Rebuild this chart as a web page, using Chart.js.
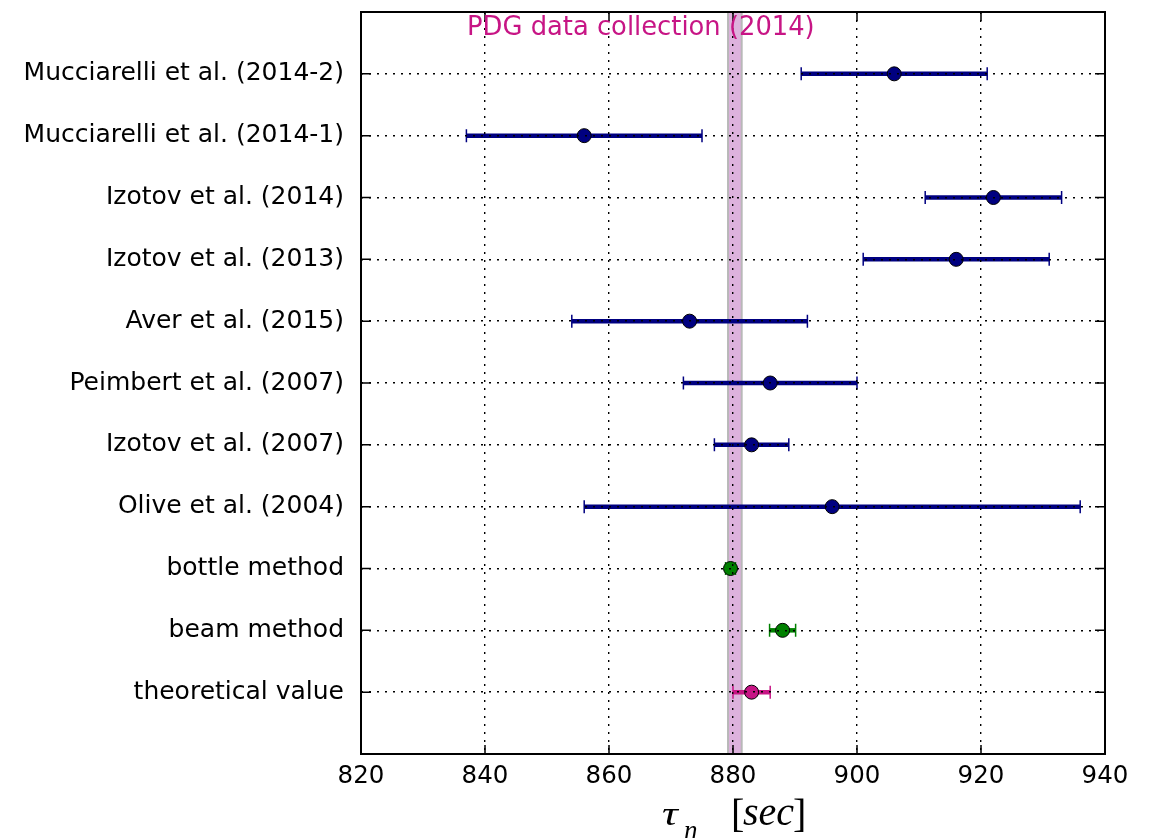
<!DOCTYPE html>
<html>
<head>
<meta charset="utf-8">
<script src="https://cdn.jsdelivr.net/npm/chart.js@4/dist/chart.umd.min.js"></script>
<style>
  html, body { margin: 0; padding: 0; background: #fff; }
  #wrap { width: 1159px; height: 838px; }
</style>
</head>
<body>
<div id="wrap"><canvas id="c" width="1159" height="838"></canvas></div>
<script>
// ---- data ----
const categories = [
  "theoretical value",
  "beam method",
  "bottle method",
  "Olive et al. (2004)",
  "Izotov et al. (2007)",
  "Peimbert et al. (2007)",
  "Aver et al. (2015)",
  "Izotov et al. (2013)",
  "Izotov et al. (2014)",
  "Mucciarelli et al. (2014-1)",
  "Mucciarelli et al. (2014-2)"
];
const lifetimes = [883, 888, 879.6, 896, 883, 886, 873, 916, 922, 856, 906];
const lifetimeErrors = [3, 2.1, 0.8, 40, 6, 14, 19, 15, 11, 19, 15];
const groups = ["theory", "lab", "lab", "astro", "astro", "astro", "astro", "astro", "astro", "astro", "astro"];
const xTicks = [820, 840, 860, 880, 900, 920, 940];
const pdgValue = 880.3;
const pdgError = 1.1;
const pdgLabel = "PDG data collection (2014)";

// ---- styles ----
const groupColors = { theory: "#c71585", lab: "#008000", astro: "#000080" };
const pointColors = groups.map(g => groupColors[g]);
const FONT = "'DejaVu Sans', 'Liberation Sans', sans-serif";
const SERIF = "'Liberation Serif', 'DejaVu Serif', serif";

const pointsData = lifetimes.map((v, i) => ({ x: v, y: i }));

const decorPlugin = {
  id: 'decor',
  beforeDatasetsDraw(chart) {
    const { ctx, chartArea: a, scales: { x, y } } = chart;
    ctx.save();
    // PDG band
    const x0 = x.getPixelForValue(pdgValue - pdgError);
    const x1 = x.getPixelForValue(pdgValue + pdgError);
    ctx.fillStyle = "rgb(221,178,221)";
    ctx.fillRect(x0, a.top, x1 - x0, a.bottom - a.top);
    ctx.strokeStyle = "rgb(184,184,184)";
    ctx.lineWidth = 2;
    ctx.beginPath();
    ctx.moveTo(x0, a.top); ctx.lineTo(x0, a.bottom);
    ctx.moveTo(x1, a.top); ctx.lineTo(x1, a.bottom);
    ctx.stroke();
    // error bars
    lifetimes.forEach((v, i) => {
      const py = y.getPixelForValue(i);
      const pl = x.getPixelForValue(v - lifetimeErrors[i]);
      const pr = x.getPixelForValue(v + lifetimeErrors[i]);
      ctx.strokeStyle = pointColors[i];
      ctx.lineWidth = 4.5;
      ctx.beginPath();
      ctx.moveTo(pl, py); ctx.lineTo(pr, py);
      ctx.stroke();
      ctx.lineWidth = 1.5;
      ctx.beginPath();
      ctx.moveTo(pl, py - 6.5); ctx.lineTo(pl, py + 6.5);
      ctx.moveTo(pr, py - 6.5); ctx.lineTo(pr, py + 6.5);
      ctx.stroke();
    });
    ctx.restore();
  },
  afterDraw(chart) {
    const { ctx, chartArea: a, scales: { x, y } } = chart;
    ctx.save();
    // inside tick marks
    ctx.strokeStyle = "#000";
    ctx.lineWidth = 1.5;
    ctx.beginPath();
    categories.forEach((_, i) => {
      const py = y.getPixelForValue(i);
      ctx.moveTo(a.left, py); ctx.lineTo(a.left + 10, py);
      ctx.moveTo(a.right, py); ctx.lineTo(a.right - 10, py);
    });
    xTicks.forEach(v => {
      const px = x.getPixelForValue(v);
      ctx.moveTo(px, a.bottom); ctx.lineTo(px, a.bottom - 9);
      ctx.moveTo(px, a.top); ctx.lineTo(px, a.top + 9);
    });
    ctx.stroke();
    // frame
    ctx.lineWidth = 2;
    ctx.strokeRect(a.left, a.top, a.right - a.left, a.bottom - a.top);
    // PDG label
    ctx.fillStyle = "#c71585";
    ctx.font = "25.8px " + FONT;
    ctx.textAlign = "left";
    ctx.textBaseline = "middle";
    ctx.fillText(pdgLabel, x.getPixelForValue(837.1), y.getPixelForValue(10.73));
    // x axis title: tau_n  [sec]
    ctx.fillStyle = "#000";
    ctx.textBaseline = "alphabetic";
    const base = 825;
    ctx.save();
    ctx.translate(662, base);
    ctx.scale(1.3, 1);
    ctx.font = "italic 34px " + SERIF;
    ctx.fillText("\u03C4", 0, 0);
    ctx.restore();
    ctx.font = "italic 27px " + SERIF;
    ctx.fillText("n", 684, base + 14);
    ctx.font = "40px " + SERIF;
    ctx.fillText("[", 731, base + 2);
    ctx.font = "italic 40px " + SERIF;
    ctx.fillText("sec", 743, base);
    ctx.font = "40px " + SERIF;
    ctx.fillText("]", 793, base + 2);
    ctx.restore();
  }
};

new Chart(document.getElementById('c'), {
  type: 'scatter',
  data: {
    datasets: [{
      data: pointsData,
      pointRadius: 7,
      pointHoverRadius: 7,
      pointBackgroundColor: pointColors,
      pointBorderColor: "#000",
      pointBorderWidth: 1
    }]
  },
  options: {
    responsive: false,
    animation: false,
    events: [],
    layout: { padding: { left: 0, right: 54, top: 12, bottom: 0 } },
    plugins: { legend: { display: false }, tooltip: { enabled: false } },
    scales: {
      x: {
        type: 'linear', position: 'bottom', min: 820, max: 940,
        afterBuildTicks: s => { s.ticks = xTicks.map(v => ({ value: v })); },
        afterFit: s => { s.height = 84; s.paddingLeft = 0; s.paddingRight = 0; },
        ticks: { font: { family: FONT, size: 24.5 }, color: "#000", padding: 8, maxRotation: 0, autoSkip: false },
        grid: { color: "#000", lineWidth: 1.4, drawTicks: false, z: 1 },
        border: { display: false, dash: [2, 6] }
      },
      y: {
        type: 'linear', position: 'left', min: -1, max: 11,
        afterBuildTicks: s => { s.ticks = categories.map((_, i) => ({ value: i })); },
        afterFit: s => { s.width = 361; s.paddingTop = 0; s.paddingBottom = 0; },
        ticks: { font: { family: FONT, size: 25 }, color: "#000", padding: 17, autoSkip: false,
                 callback: v => categories[v] },
        grid: { color: "#000", lineWidth: 1.4, drawTicks: false, z: 1 },
        border: { display: false, dash: [2, 6] }
      }
    }
  },
  plugins: [decorPlugin]
});
</script>
</body>
</html>
